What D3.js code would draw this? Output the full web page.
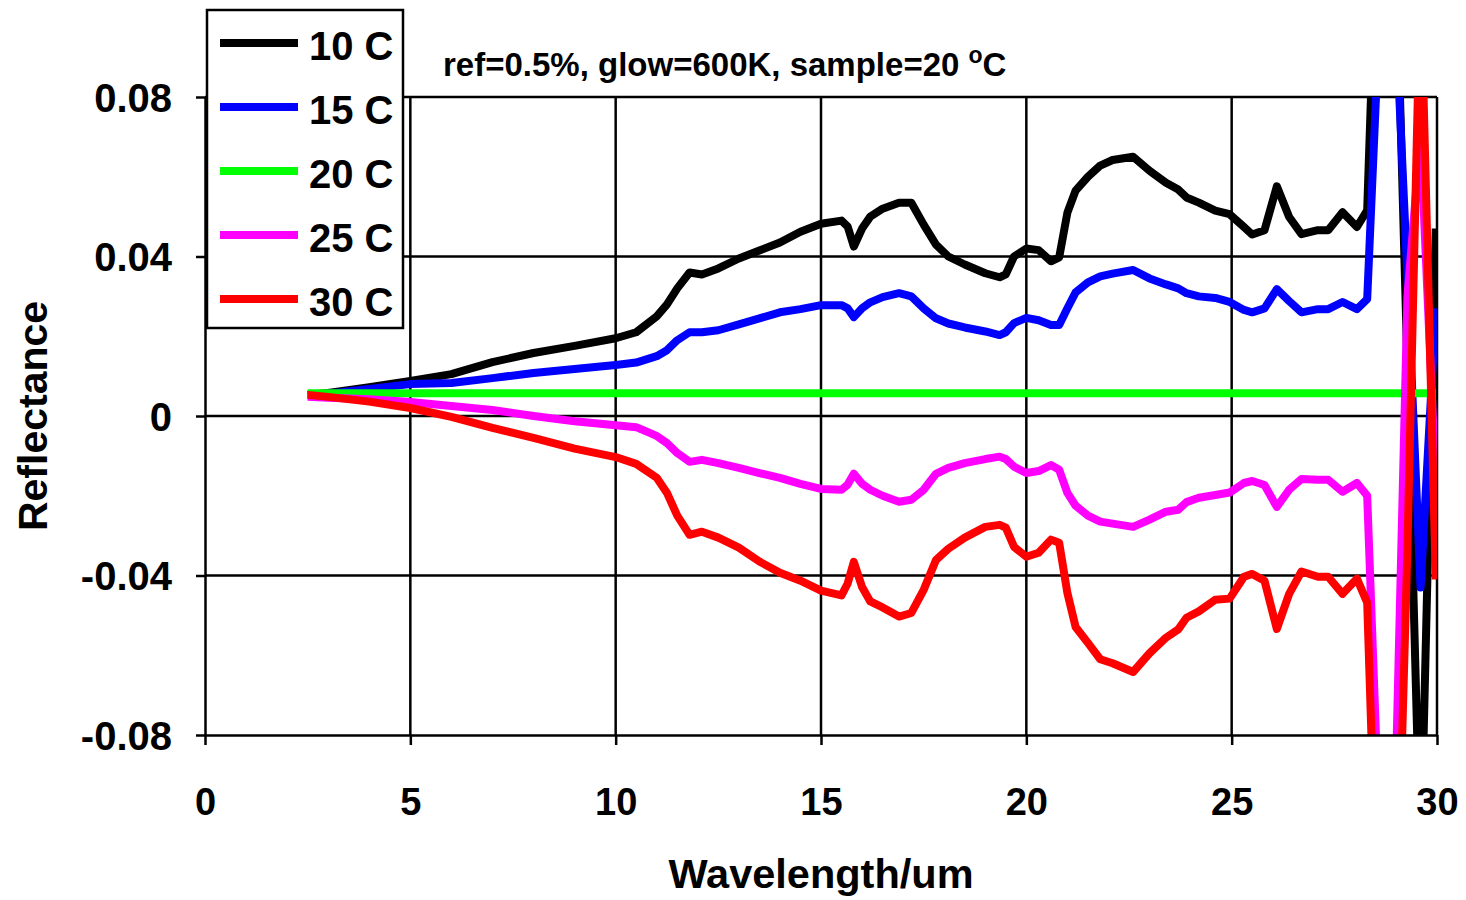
<!DOCTYPE html>
<html>
<head>
<meta charset="utf-8">
<script src="https://cdn.jsdelivr.net/npm/d3@7"></script>
<style>
  html, body { margin: 0; padding: 0; background: #fff; }
  svg { display: block; font-family: "Liberation Sans", Arial, sans-serif; font-weight: bold; }
</style>
</head>
<body>
<svg id="chart" width="1466" height="900"></svg>
<script>
// ---------------- DATA ----------------
const wavelength = [2.5, 3, 4, 5, 6, 7, 8, 9, 10, 10.5, 11, 11.25, 11.5, 11.8, 12.1, 12.5, 13, 13.5, 14, 14.5,
  15, 15.5, 15.65, 15.8, 16.0, 16.2, 16.5, 16.9, 17.2, 17.5, 17.8, 18.1, 18.5, 19.0, 19.35, 19.5, 19.7, 20.0,
  20.3, 20.6, 20.8, 21.0, 21.2, 21.5, 21.8, 22.1, 22.6, 23.0, 23.4, 23.7, 23.9, 24.2, 24.6, 24.95, 25.3, 25.5,
  25.8, 26.1, 26.4, 26.7, 27.1, 27.35, 27.7, 28.05, 28.3, 28.62, 28.95, 29.28, 29.6, 29.97];

const r10C = [0.0053, 0.0058, 0.0072, 0.0088, 0.0105, 0.0135, 0.0158, 0.0176, 0.0195, 0.021, 0.025, 0.028, 0.032, 0.036,
  0.0355, 0.037, 0.0395, 0.0415, 0.0435, 0.0462, 0.0482, 0.049, 0.0475, 0.0425, 0.047, 0.05, 0.052, 0.0535, 0.0535,
  0.048, 0.043, 0.040, 0.038, 0.0358, 0.0348, 0.0355, 0.040, 0.042, 0.0416, 0.0388, 0.0398, 0.051, 0.0565, 0.060,
  0.0628, 0.0642, 0.065, 0.0615, 0.0585, 0.0568, 0.0548, 0.0535, 0.0515, 0.0506, 0.0474, 0.0455, 0.0466, 0.0576,
  0.0499, 0.0456, 0.0466, 0.0466, 0.0511, 0.0474, 0.0516, 0.15, 0.136, 0.012, -0.112, 0.047];

const r15C = [0.0053, 0.0056, 0.0068, 0.008, 0.0083, 0.0095, 0.0108, 0.0118, 0.0128, 0.0134, 0.015, 0.0165, 0.019, 0.021,
  0.021, 0.0215, 0.023, 0.0245, 0.026, 0.0268, 0.0278, 0.0278, 0.027, 0.0248, 0.027, 0.0285, 0.0298, 0.0308, 0.030,
  0.027, 0.0245, 0.0232, 0.0222, 0.0212, 0.0203, 0.021, 0.0233, 0.0246, 0.024, 0.0228, 0.0228, 0.027, 0.031, 0.0335,
  0.035, 0.0357, 0.0366, 0.0345, 0.033, 0.032, 0.0308, 0.030, 0.0296, 0.0286, 0.0266, 0.026, 0.027, 0.0318, 0.0288,
  0.026, 0.0268, 0.0268, 0.0286, 0.0268, 0.0293, 0.105, 0.11, 0.035, -0.043, 0.027];

const r20C = wavelength.map(() => 0.0057);

const r25C = [0.0048, 0.0046, 0.0042, 0.0035, 0.0025, 0.0015, 0.0, -0.0013, -0.0023, -0.0028, -0.005, -0.0068, -0.0093,
  -0.0115, -0.011, -0.0118, -0.013, -0.0143, -0.0155, -0.017, -0.0183, -0.0185, -0.0172, -0.0145, -0.017, -0.0185,
  -0.020, -0.0215, -0.021, -0.0185, -0.0145, -0.013, -0.0118, -0.0108, -0.0102, -0.0108, -0.0127, -0.0143, -0.0138,
  -0.0123, -0.0135, -0.0193, -0.0225, -0.025, -0.0265, -0.027, -0.0278, -0.026, -0.024, -0.0235, -0.0216, -0.0205,
  -0.0198, -0.0192, -0.0168, -0.0163, -0.0173, -0.0228, -0.0185, -0.0158, -0.016, -0.016, -0.019, -0.0168, -0.020,
  -0.11, -0.11, 0.03, 0.07, -0.017];

const r30C = [0.0053, 0.0048, 0.0036, 0.002, -0.0002, -0.003, -0.0055, -0.0082, -0.0103, -0.012, -0.0155, -0.0193, -0.025,
  -0.0298, -0.029, -0.0305, -0.033, -0.0365, -0.0393, -0.0413, -0.0438, -0.045, -0.042, -0.0366, -0.0429, -0.0465,
  -0.048, -0.0503, -0.0494, -0.0436, -0.0361, -0.0333, -0.0305, -0.0278, -0.0273, -0.028, -0.0328, -0.0353, -0.0343,
  -0.031, -0.0318, -0.0444, -0.0529, -0.0569, -0.061, -0.062, -0.0642, -0.0595, -0.0556, -0.0535, -0.0506, -0.049,
  -0.0461, -0.0458, -0.0403, -0.0396, -0.0413, -0.0534, -0.0446, -0.039, -0.0403, -0.0403, -0.0446, -0.0408, -0.0468,
  -0.15, -0.155, -0.033, 0.11, -0.041];

const seriesNames = ["10 C", "15 C", "20 C", "25 C", "30 C"];
const seriesColors = ["#000000", "#0000ff", "#00ff00", "#ff00ff", "#ff0000"];
const xTicks = [0, 5, 10, 15, 20, 25, 30];
const xTickLabels = ["0", "5", "10", "15", "20", "25", "30"];
const yTicks = [-0.08, -0.04, 0, 0.04, 0.08];
const yTickLabels = ["-0.08", "-0.04", "0", "0.04", "0.08"];
const titleText = "ref=0.5%, glow=600K, sample=20 ";
const xTitle = "Wavelength/um";
const yTitle = "Reflectance";

// ---------------- CHART ----------------
(function () {
const svg = d3.select("#chart");
const pL = 205, pR = 1437, pT = 97, pB = 735;
const x = d3.scaleLinear().domain([0, 30]).range([pL, pR]);
const y = d3.scaleLinear().domain([-0.08, 0.08]).range([pB, pT]);

svg.append("defs").append("clipPath").attr("id", "plotclip")
  .append("rect").attr("x", pL).attr("y", pT).attr("width", pR - pL).attr("height", pB - pT);

// gridlines
const grid = svg.append("g");
grid.selectAll("line.vx").data(xTicks.filter(d => d > 0)).join("line")
  .attr("x1", d => x(d)).attr("x2", d => x(d)).attr("y1", pT).attr("y2", pB)
  .attr("stroke", "#000").attr("stroke-width", 2.5);
grid.selectAll("line.hy").data(yTicks.filter(d => d > -0.08)).join("line")
  .attr("x1", pL).attr("x2", pR).attr("y1", d => y(d)).attr("y2", d => y(d))
  .attr("stroke", "#000").attr("stroke-width", 2.5);

// series
const allSeries = [r10C, r15C, r20C, r25C, r30C];
const line = d3.line().x((d, i) => x(wavelength[i])).y(d => y(d));
const plot = svg.append("g").attr("clip-path", "url(#plotclip)");
allSeries.forEach((s, k) => {
  plot.append("path").datum(s)
    .attr("d", line)
    .attr("fill", "none")
    .attr("stroke", seriesColors[k])
    .attr("stroke-width", 8)
    .attr("stroke-linejoin", "round")
    .attr("stroke-linecap", "butt");
});

// axes
const xAxis = d3.axisBottom(x).tickValues(xTicks).tickSize(10).tickSizeOuter(0)
  .tickFormat((d, i) => xTickLabels[i]);
const gx = svg.append("g").attr("transform", `translate(0,${pB})`).call(xAxis);
gx.select(".domain").attr("stroke", "#000").attr("stroke-width", 2.5);
gx.selectAll(".tick line").attr("stroke", "#000").attr("stroke-width", 2.5);
gx.selectAll(".tick text").attr("font-size", 38).attr("font-family", "Liberation Sans, Arial, sans-serif")
  .attr("font-weight", "bold").attr("fill", "#000").attr("y", 53).attr("dy", "0.71em");

const yAxis = d3.axisLeft(y).tickValues(yTicks).tickSize(9).tickSizeOuter(0)
  .tickFormat((d, i) => yTickLabels[i]);
const gy = svg.append("g").attr("transform", `translate(${pL},0)`).call(yAxis);
gy.select(".domain").attr("stroke", "#000").attr("stroke-width", 2.5);
gy.selectAll(".tick line").attr("stroke", "#000").attr("stroke-width", 2.5);
gy.selectAll(".tick text").attr("font-size", 40).attr("font-family", "Liberation Sans, Arial, sans-serif")
  .attr("font-weight", "bold").attr("fill", "#000").attr("x", -33).attr("dy", "0.36em");

// axis titles
svg.append("text").attr("x", (pL + pR) / 2).attr("y", 888).attr("text-anchor", "middle")
  .attr("font-size", 41.5).text(xTitle);
svg.append("text").attr("transform", `translate(47,${(pT + pB) / 2}) rotate(-90)`)
  .attr("text-anchor", "middle").attr("font-size", 41).text(yTitle);

// title
const t = svg.append("text").attr("x", 443).attr("y", 76).attr("font-size", 33);
t.append("tspan").text(titleText);
t.append("tspan").attr("font-size", 23).attr("dy", -13).text("o");
t.append("tspan").attr("dy", 13).text("C");

// legend
const lg = svg.append("g");
lg.append("rect").attr("x", 207).attr("y", 10).attr("width", 196).attr("height", 318)
  .attr("fill", "#fff").attr("stroke", "#000").attr("stroke-width", 2.5);
seriesNames.forEach((n, k) => {
  const cy = 43 + k * 64;
  lg.append("line").attr("x1", 220).attr("x2", 298).attr("y1", cy).attr("y2", cy)
    .attr("stroke", seriesColors[k]).attr("stroke-width", 8);
  lg.append("text").attr("x", 309).attr("y", cy + 17).attr("font-size", 40).text(n);
});
})();
</script>
</body>
</html>
